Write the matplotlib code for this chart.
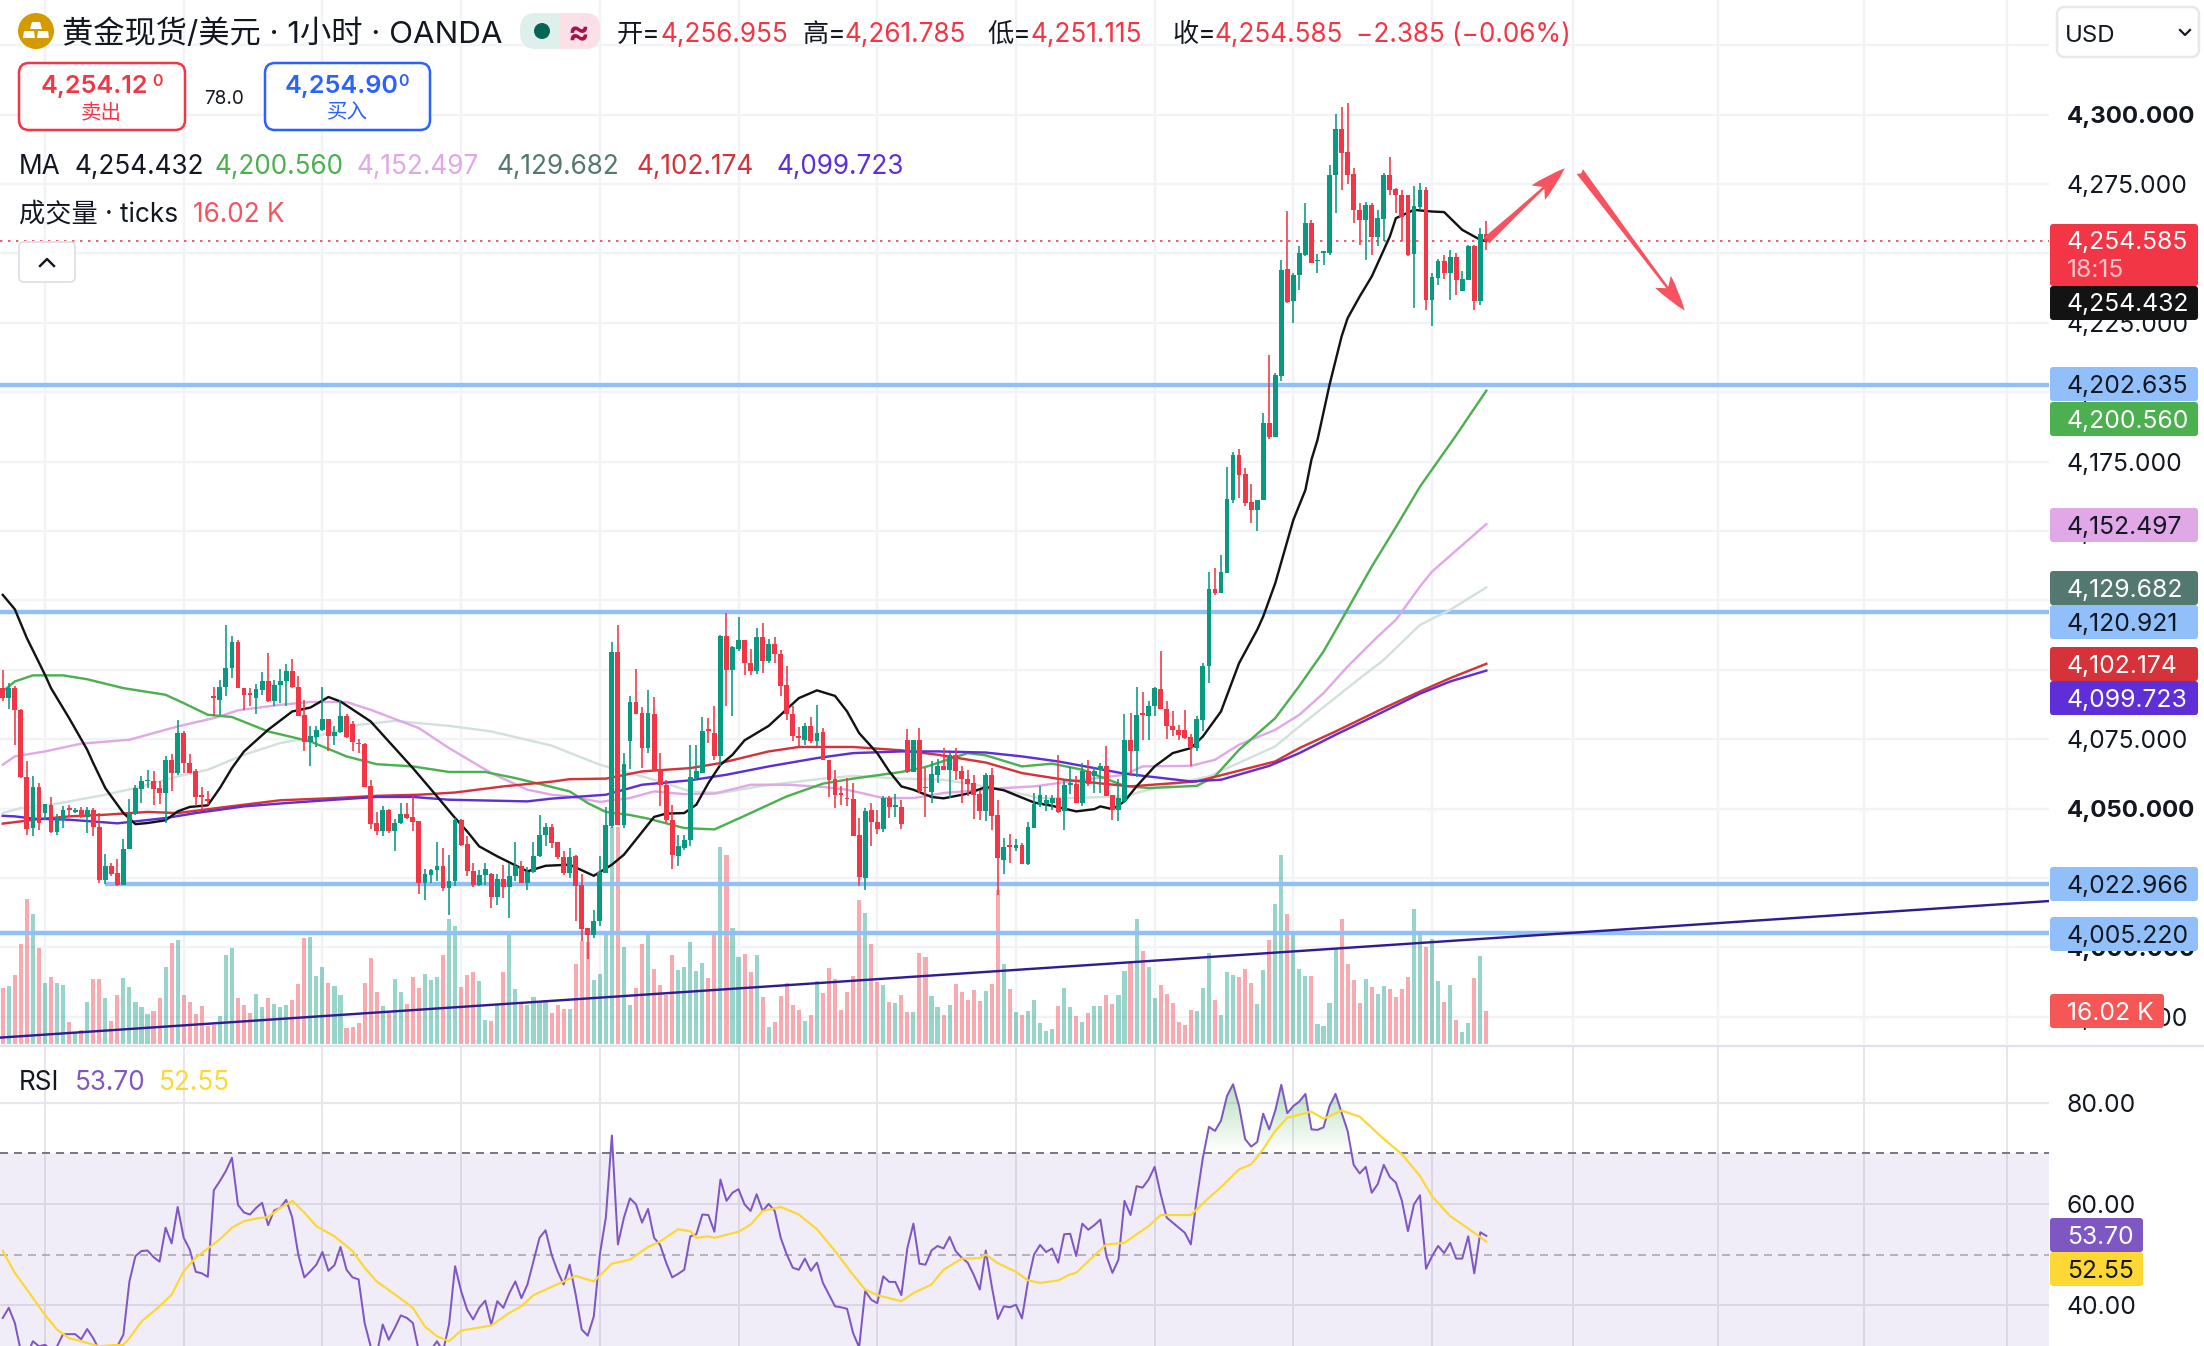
import matplotlib
matplotlib.use('Agg')
import matplotlib.pyplot as plt
import numpy as np
from matplotlib.patches import Circle, FancyBboxPatch, Polygon, Rectangle

opens = [4093.4,4089.8,4093.4,4085.6,4061.4,4043.0,4057.8,4048.4,4051.4,4041.4,
    4045.8,4050.2,4048.6,4049.4,4047.0,4049.6,4043.4,4024.2,4029.4,4026.8,
    4022.6,4035.4,4048.2,4057.2,4059.8,4060.0,4057.5,4055.8,4067.6,4063.0,
    4077.4,4066.6,4063.4,4054.6,4053.2,4090.0,4089.2,4093.8,4100.6,4110.1,
    4093.4,4091.2,4090.0,4092.8,4095.8,4088.6,4094.6,4095.8,4099.6,4093.8,
    4083.8,4074.0,4075.8,4078.2,4082.2,4076.0,4077.6,4083.4,4080.6,4073.8,
    4073.4,4058.0,4044.8,4041.8,4049.6,4041.8,4044.8,4048.0,4047.0,4045.4,
    4023.2,4026.2,4027.8,4029.4,4021.4,4023.8,4046.0,4037.2,4027.6,4022.6,
    4026.2,4026.6,4018.2,4024.6,4021.8,4025.6,4029.4,4023.2,4027.0,4032.8,
    4040.6,4043.4,4037.8,4032.6,4026.8,4032.8,4022.6,4007.0,4004.4,4009.5,
    4026.8,4043.8,4106.5,4044.2,4074.3,4088.5,4084.4,4071.8,4084.2,4064.0,
    4058.6,4046.0,4033.0,4035.8,4038.6,4061.0,4063.0,4078.2,4077.4,4068.8,
    4112.2,4099.8,4107.4,4110.6,4102.4,4099.4,4111.8,4103.0,4109.2,4105.8,
    4094.5,4084.0,4076.0,4074.6,4079.8,4074.3,4077.7,4067.6,4060.6,4055.2,
    4054.0,4053.6,4040.6,4025.0,4049.4,4045.3,4042.6,4053.7,4050.6,4050.6,
    4074.8,4063.3,4074.8,4057.5,4056.1,4062.2,4065.2,4063.8,4069.2,4063.4,
    4060.8,4059.2,4055.4,4049.0,4062.2,4047.8,4031.4,4036.5,4035.7,4037.0,
    4030.2,4043.1,4051.4,4051.8,4052.2,4053.8,4049.0,4058.6,4059.0,4052.2,
    4063.4,4061.6,4063.8,4065.4,4055.0,4049.4,4052.6,4074.8,4070.6,4084.0,
    4083.2,4087.0,4093.0,4085.8,4079.8,4078.4,4078.4,4075.8,4072.0,4082.0,
    4101.2,4129.2,4127.7,4135.0,4161.2,4177.4,4170.6,4160.4,4157.6,4161.0,
    4188.9,4183.9,4205.7,4244.3,4232.7,4242.1,4249.5,4260.9,4247.2,4250.1,
    4250.1,4278.1,4294.9,4286.5,4278.7,4265.5,4261.9,4267.5,4256.1,4262.5,
    4278.3,4273.1,4270.9,4270.9,4249.9,4266.9,4272.9,4233.3,4241.2,4247.3,
    4242.9,4248.7,4236.3,4240.3,4252.5,4232.7,4256.955]

highs = [4099.8,4095.2,4094.0,4085.8,4067.0,4061.6,4059.4,4051.5,4054.2,4048.0,
    4051.0,4051.4,4050.2,4050.6,4050.6,4050.2,4048.4,4033.8,4030.4,4031.8,
    4039.0,4053.4,4058.6,4061.6,4064.0,4063.4,4059.8,4068.8,4069.8,4082.0,
    4077.8,4069.8,4064.2,4057.8,4056.3,4093.8,4096.4,4116.2,4112.2,4110.8,
    4093.4,4093.4,4095.0,4099.2,4106.0,4096.2,4100.2,4102.2,4103.8,4097.8,
    4089.2,4079.6,4079.8,4093.8,4082.2,4079.6,4089.2,4084.0,4081.4,4075.0,
    4073.8,4060.4,4048.9,4051.0,4049.8,4046.2,4052.0,4052.0,4054.6,4045.4,
    4028.2,4028.2,4038.1,4035.8,4033.4,4046.7,4046.2,4040.2,4030.4,4028.0,
    4030.4,4026.8,4026.6,4029.8,4030.4,4038.0,4031.0,4029.0,4037.8,4047.8,
    4044.8,4044.4,4038.1,4034.6,4035.8,4033.4,4026.6,4007.0,4013.6,4032.8,
    4050.6,4110.1,4116.2,4070.0,4090.6,4100.2,4086.6,4092.8,4090.2,4070.0,
    4060.4,4051.4,4040.6,4040.6,4073.0,4073.0,4083.0,4082.6,4086.8,4112.6,
    4120.4,4108.4,4119.0,4110.8,4107.4,4115.0,4117.0,4111.0,4111.8,4107.0,
    4101.4,4086.8,4079.4,4081.0,4083.0,4087.4,4079.0,4067.6,4064.0,4058.2,
    4061.0,4059.2,4046.6,4050.2,4052.2,4049.6,4054.6,4054.6,4055.4,4053.0,
    4078.8,4074.8,4079.0,4064.6,4067.0,4067.8,4071.8,4070.0,4071.8,4065.2,
    4064.0,4062.2,4056.6,4063.0,4064.6,4053.2,4039.4,4041.0,4039.0,4037.6,
    4045.0,4055.6,4058.0,4055.0,4055.0,4069.4,4060.4,4065.0,4061.6,4066.4,
    4067.6,4065.0,4066.6,4072.6,4055.0,4060.6,4084.2,4084.4,4093.8,4092.1,
    4088.8,4093.8,4106.6,4088.8,4085.0,4080.2,4085.6,4077.0,4083.4,4102.4,
    4135.3,4136.6,4141.4,4173.1,4178.5,4179.6,4172.7,4167.0,4161.2,4192.5,
    4213.5,4206.9,4247.7,4265.3,4243.0,4252.5,4268.1,4262.1,4249.9,4250.7,
    4281.9,4300.3,4302.9,4304.1,4280.7,4268.1,4268.7,4268.3,4265.5,4278.9,
    4284.7,4273.5,4272.9,4271.1,4274.3,4275.3,4274.1,4242.9,4248.1,4249.5,
    4251.3,4250.1,4243.5,4253.1,4253.1,4259.1,4261.785]

lows = [4088.6,4085.8,4073.0,4061.0,4040.6,4040.0,4042.4,4046.0,4041.2,4040.6,
    4043.0,4047.0,4048.4,4046.7,4041.2,4040.0,4023.2,4023.0,4025.6,4022.0,
    4022.6,4035.4,4047.8,4052.0,4057.4,4051.4,4051.8,4044.8,4056.2,4062.0,
    4063.0,4062.8,4050.8,4049.4,4051.4,4083.4,4083.8,4090.6,4097.0,4093.4,
    4085.4,4087.0,4084.2,4091.0,4088.5,4087.0,4088.2,4087.0,4093.4,4083.4,
    4070.6,4065.2,4072.2,4077.8,4070.6,4073.0,4077.2,4075.4,4070.6,4070.0,
    4057.8,4042.6,4040.6,4040.2,4041.2,4034.6,4044.4,4046.2,4041.8,4019.4,
    4017.0,4023.2,4023.8,4020.2,4011.6,4022.0,4036.6,4025.6,4021.8,4022.2,
    4022.6,4014.2,4015.4,4017.8,4010.6,4023.8,4023.2,4020.6,4026.8,4032.6,
    4036.4,4035.8,4031.8,4026.2,4025.0,4009.4,4002.2,3995.8,4003.4,4007.6,
    4026.8,4043.0,4044.2,4043.0,4064.2,4084.2,4064.6,4070.0,4063.4,4050.8,
    4044.8,4028.2,4029.2,4035.2,4036.6,4060.4,4062.8,4073.6,4067.6,4065.4,
    4087.0,4083.2,4106.6,4098.2,4098.2,4098.6,4099.0,4102.4,4102.4,4090.4,
    4082.0,4074.2,4072.4,4073.0,4073.6,4072.4,4067.4,4054.2,4050.3,4051.4,
    4050.8,4040.0,4022.0,4020.8,4036.6,4041.0,4041.4,4046.6,4047.0,4042.6,
    4063.0,4063.3,4055.6,4047.0,4052.0,4059.2,4063.8,4053.8,4060.4,4052.2,
    4054.4,4046.2,4045.8,4045.4,4042.2,4019.0,4026.6,4030.4,4034.6,4030.2,
    4029.8,4043.1,4050.6,4049.0,4049.6,4048.4,4042.4,4055.4,4052.2,4051.0,
    4058.0,4055.6,4055.6,4054.4,4046.0,4045.4,4052.2,4061.6,4061.4,4074.6,
    4074.6,4083.2,4085.8,4075.2,4076.2,4074.6,4075.0,4065.2,4070.6,4077.8,
    4095.4,4126.8,4127.7,4135.0,4160.2,4161.9,4159.0,4152.9,4150.0,4161.0,
    4183.2,4183.9,4203.9,4232.3,4225.1,4236.9,4248.9,4246.5,4243.1,4245.9,
    4249.3,4264.7,4272.9,4275.1,4260.9,4253.1,4247.5,4249.5,4252.7,4254.3,
    4271.1,4264.7,4254.3,4249.1,4230.3,4265.7,4229.5,4223.7,4238.7,4240.9,
    4233.1,4234.9,4236.3,4240.3,4229.7,4231.5,4251.115]

closes = [4089.8,4093.4,4085.4,4061.4,4042.6,4057.8,4044.8,4051.5,4041.4,4046.6,
    4049.6,4049.6,4049.6,4047.0,4049.6,4043.4,4024.2,4029.4,4026.6,4022.6,
    4035.4,4048.2,4057.4,4059.8,4060.4,4057.2,4055.8,4067.6,4063.0,4077.4,
    4066.6,4063.0,4054.2,4054.2,4052.7,4089.8,4093.8,4100.6,4110.1,4093.4,
    4090.8,4091.0,4093.0,4095.9,4088.6,4094.7,4095.9,4099.6,4093.8,4083.4,
    4074.0,4076.0,4078.4,4082.2,4076.0,4077.7,4083.4,4075.8,4074.0,4073.2,
    4057.8,4044.6,4041.8,4049.6,4041.8,4044.8,4048.2,4046.6,4045.2,4023.2,
    4026.4,4028.0,4029.4,4021.4,4023.8,4046.0,4037.0,4027.4,4022.6,4026.2,
    4028.2,4018.2,4024.6,4021.8,4025.8,4029.4,4023.2,4027.3,4033.0,4040.6,
    4043.4,4037.6,4032.6,4026.8,4032.6,4022.2,4006.6,4004.4,4009.5,4027.2,
    4044.2,4106.5,4044.2,4066.2,4088.5,4084.2,4071.8,4084.4,4063.8,4058.4,
    4045.8,4033.4,4036.4,4038.8,4061.4,4063.4,4077.8,4078.0,4068.8,4112.2,
    4099.8,4108.2,4110.6,4102.4,4099.4,4111.8,4103.0,4109.2,4105.8,4094.2,
    4084.0,4076.0,4075.3,4079.6,4074.3,4077.4,4067.6,4060.4,4055.0,4055.0,
    4053.4,4040.2,4025.2,4049.0,4045.0,4042.8,4053.7,4050.6,4050.8,4044.6,
    4063.3,4074.8,4056.2,4057.3,4062.6,4065.2,4063.8,4069.4,4063.4,4060.8,
    4059.0,4055.0,4049.0,4062.2,4047.4,4032.1,4036.2,4036.3,4036.9,4030.2,
    4043.4,4051.8,4055.0,4053.2,4053.8,4048.8,4058.6,4059.4,4052.2,4063.6,
    4059.0,4063.4,4065.2,4054.6,4049.4,4053.8,4074.8,4070.6,4083.8,4083.8,
    4087.0,4093.3,4085.8,4079.6,4078.2,4076.6,4075.3,4072.0,4082.4,4101.4,
    4129.2,4127.7,4135.2,4161.6,4177.4,4170.3,4160.1,4157.6,4161.2,4188.9,
    4183.9,4206.3,4244.1,4232.5,4242.3,4250.1,4260.9,4246.7,4247.5,4250.4,
    4278.3,4294.9,4286.3,4278.3,4265.5,4261.9,4267.5,4256.1,4262.7,4278.3,
    4272.9,4270.9,4263.1,4249.5,4267.1,4272.9,4233.3,4241.5,4247.3,4242.9,
    4248.7,4240.5,4240.7,4252.5,4232.7,4257.1,4254.585]

# volume in thousands of ticks
volume = [27.2,28.2,33.5,48.5,70.4,63.1,46.6,29.4,32.5,29.8,
    28.6,10.7,6.0,6.8,20.4,31.6,31.6,22.3,11.2,23.8,
    32.0,27.7,20.4,18.0,14.6,16.0,22.3,37.4,49.0,50.5,
    23.8,20.4,14.6,18.4,8.7,9.2,13.6,43.2,46.6,22.3,
    18.9,15.0,24.3,18.0,22.3,19.4,18.0,18.9,21.4,29.1,
    51.5,51.9,33.0,37.4,29.6,28.2,23.8,7.8,8.3,10.2,
    29.6,41.7,25.2,18.4,15.0,31.6,25.2,19.4,32.5,27.2,
    34.0,31.1,32.5,43.2,60.7,57.3,27.7,33.5,34.9,30.6,
    11.6,11.2,18.9,34.9,52.9,26.7,19.4,18.9,22.8,20.9,
    21.4,15.0,18.9,17.0,17.0,38.8,50.0,49.7,31.1,34.0,
    52.9,105.5,105.5,47.1,18.9,27.2,48.5,52.9,36.4,28.6,
    23.8,43.2,35.9,37.4,49.5,35.4,39.3,32.0,54.8,95.6,
    91.7,56.3,42.2,43.7,34.9,43.2,22.8,8.3,10.7,23.3,
    29.6,18.9,16.5,11.2,14.1,30.6,24.8,36.9,31.6,16.5,
    25.2,33.0,69.9,63.6,48.5,30.1,28.6,20.4,19.9,23.8,
    15.5,15.5,44.2,42.2,23.3,18.0,14.1,18.9,29.1,25.2,
    21.4,26.2,20.9,25.7,29.1,74.8,38.8,26.7,15.5,14.1,
    16.0,21.4,10.2,6.3,7.3,18.4,27.2,18.0,13.6,10.7,
    15.0,18.4,18.4,23.8,19.4,23.8,35.4,39.3,60.7,45.1,
    37.4,22.3,28.6,24.3,19.9,10.7,9.2,16.5,16.0,27.2,
    44.2,21.4,14.1,34.9,33.5,32.5,36.4,29.6,19.4,35.9,
    50.5,68.0,91.7,63.1,52.9,36.4,33.0,33.0,9.7,8.7,
    19.9,46.1,60.7,38.8,31.1,19.9,31.6,27.7,24.3,28.2,
    26.7,22.8,26.7,32.5,65.5,54.8,47.1,51.0,30.6,20.4,
    28.6,11.6,5.8,10.2,32.0,42.7,16.02]

rsi = [37.5,39.5,36.5,30.9,30.2,32.9,31.9,32.2,31.2,31.9,
    34.3,34.3,34.3,33.3,35.3,33.5,31.2,30.6,31.2,31.9,
    34.2,44.7,49.7,50.7,50.8,49.5,48.6,55.3,52.2,59.4,
    53.3,51.0,46.6,46.3,45.6,62.7,64.5,66.5,69.1,59.8,
    58.3,57.9,59.2,60.2,55.8,58.7,59.2,60.8,57.3,50.0,
    45.5,46.7,48.0,50.5,46.8,47.9,51.5,47.0,45.5,45.1,
    36.5,31.9,30.2,36.2,33.2,35.5,38.0,37.5,36.5,30.9,
    29.6,31.2,32.9,30.9,36.2,47.7,42.8,39.1,37.2,39.5,
    40.9,36.2,40.8,39.5,42.4,44.7,41.4,44.1,48.7,53.3,
    54.8,50.0,46.7,44.1,48.0,42.1,35.2,34.0,37.8,50.0,
    57.3,73.5,52.0,57.3,61.1,59.9,56.3,59.0,53.3,51.9,
    48.4,45.5,46.2,47.0,53.6,54.0,57.9,57.8,54.5,64.8,
    60.6,62.2,62.9,59.9,58.6,61.9,58.6,60.0,58.6,53.3,
    50.0,47.4,47.0,49.2,46.8,48.4,44.4,42.1,39.8,39.6,
    39.3,34.5,31.7,42.8,41.1,40.4,45.7,44.6,44.6,42.0,
    51.3,56.1,48.2,48.0,50.8,51.7,51.2,53.5,50.7,49.4,
    48.4,46.0,43.1,50.8,43.7,37.3,39.8,39.6,40.1,37.4,
    44.7,50.0,51.9,50.5,51.2,48.4,54.0,54.1,49.7,56.1,
    54.9,55.8,56.9,49.7,46.4,49.0,60.6,57.8,63.5,63.2,
    64.8,67.3,61.9,57.3,56.3,55.3,54.3,52.0,61.2,69.1,
    75.2,74.4,76.4,81.3,83.6,79.3,72.8,71.3,72.2,77.8,
    74.7,78.4,83.5,77.9,79.3,80.2,81.7,74.7,74.6,75.1,
    79.3,81.7,78.0,74.4,67.7,66.0,67.3,62.2,63.9,67.7,
    65.3,64.2,60.6,54.6,59.9,61.7,47.2,49.7,51.7,50.3,
    52.3,49.2,49.2,53.6,46.3,54.4,53.70]

rsi_ma_x = [0,2,4,7,9,11,13,16,18,20,21,23,26,28,30,32,36,38,40,42,44,46,48,50,52,55,58,60,62,66,68,70,72,74,76,81,84,86,88,93,95,98,101,104,107,109,112,114,115,117,118,122,124,126,129,132,135,138,141,143,145,149,151,154,156,159,162,163,165,168,170,172,175,177,178,180,183,186,188,190,192,197,200,202,205,207,209,211,213,217,219,222,225,229,232,235,237,240,244,246]
rsi_ma_y = [50.7,46.4,43.1,38.1,35.2,33.5,32.9,31.9,32.1,32.2,33.5,36.8,39.8,42.1,46.7,49.4,53.0,55.3,56.6,57.1,57.4,59.2,60.6,58.3,55.6,53.6,50.7,47.4,44.7,41.3,39.5,35.8,33.9,32.9,35.0,36.0,38.5,39.8,42.0,44.7,45.8,44.7,48.2,49.0,51.5,52.6,55.0,54.6,53.3,53.6,53.3,54.5,55.9,58.6,59.4,57.9,55.0,50.7,46.0,43.1,42.0,40.8,42.4,44.1,47.0,49.2,49.3,50.0,48.3,46.6,44.9,44.4,44.9,46.1,46.4,48.7,52.0,52.3,54.0,55.6,57.8,57.8,61.2,63.3,66.8,67.8,70.8,74.4,77.0,78.2,76.8,78.4,77.2,72.8,69.8,65.5,61.5,57.6,54.3,52.55]

ma_black_x = [0,2,4,7,8,11,14,15,17,20,22,24,27,29,31,34,36,38,40,44,48,51,54,56,61,65,68,72,75,77,79,82,87,90,94,96,98,101,103,108,110,113,115,117,119,121,123,127,132,135,138,140,142,145,147,149,151,154,156,160,163,166,171,174,178,181,182,184,186,188,191,194,197,199,202,205,208,209,211,214,216,217,218,220,222,223,225,227,230,231,234,237,239,242,245,246]
ma_black_y = [4127.0,4121.8,4111.4,4098.2,4093.4,4082.6,4071.2,4066.4,4057.4,4048.4,4044.4,4044.8,4045.8,4049.0,4050.6,4051.2,4057.4,4064.6,4070.6,4078.4,4085.0,4086.4,4090.2,4088.6,4081.4,4071.8,4064.6,4054.4,4046.6,4041.8,4036.4,4032.8,4027.4,4029.4,4029.8,4027.8,4025.8,4029.8,4033.4,4047.0,4048.2,4048.4,4051.4,4059.2,4065.8,4069.4,4074.6,4079.8,4089.8,4092.6,4090.6,4085.0,4077.2,4070.0,4063.4,4058.0,4056.8,4054.2,4053.7,4055.4,4057.8,4056.6,4052.2,4051.0,4049.0,4049.8,4050.8,4049.8,4052.6,4058.0,4065.2,4070.0,4071.8,4076.0,4085.0,4102.4,4114.4,4119.2,4131.2,4154.0,4164.8,4175.7,4182.8,4202.7,4220.1,4226.7,4234.5,4241.7,4256.1,4262.7,4265.7,4265.1,4264.9,4258.5,4254.9,4254.432]

ma_green_x = [0,2,5,10,14,20,27,30,34,38,44,51,57,62,68,74,80,85,91,94,97,100,104,107,113,118,122,130,136,141,149,153,160,163,169,174,179,186,190,198,201,205,211,215,219,222,227,231,235,241,246]
ma_green_y = [4092.2,4095.8,4098.0,4098.0,4096.6,4093.4,4091.0,4088.0,4083.8,4083.0,4077.8,4074.2,4068.8,4066.0,4065.2,4063.2,4063.2,4061.0,4057.8,4056.2,4052.0,4048.8,4047.7,4046.4,4043.0,4042.5,4046.4,4054.4,4059.0,4060.8,4063.2,4065.0,4070.0,4069.2,4065.2,4066.2,4064.0,4058.2,4057.4,4058.2,4061.6,4071.2,4082.6,4094.2,4106.6,4118.0,4137.2,4151.4,4166.0,4184.5,4200.56]

ma_pink_x = [0,2,7,13,21,29,35,39,46,51,57,61,69,74,81,87,91,94,99,104,108,113,118,124,130,136,140,146,151,156,166,171,177,186,189,197,201,205,211,215,219,223,228,231,235,237,246]
ma_pink_y = [4065.8,4068.8,4070.6,4073.4,4074.8,4079.6,4082.6,4085.4,4087.4,4088.4,4088.4,4085.6,4079.0,4071.8,4062.8,4056.8,4055.0,4054.4,4052.4,4053.8,4056.2,4055.2,4055.4,4058.6,4058.6,4057.8,4056.8,4053.8,4053.8,4055.6,4057.4,4058.0,4059.8,4062.2,4065.2,4065.4,4067.6,4073.0,4078.4,4083.8,4091.6,4101.2,4112.0,4118.0,4130.0,4135.4,4152.497]

ma_gray_x = [0,3,8,17,22,29,34,40,46,52,59,65,74,81,91,99,108,114,119,126,136,141,149,156,165,172,177,186,191,200,211,215,224,229,235,240,246]
ma_gray_y = [4048.4,4050.2,4051.4,4055.0,4057.4,4061.6,4064.0,4069.4,4073.6,4076.0,4080.2,4081.6,4079.8,4077.8,4072.7,4065.8,4060.4,4056.2,4055.6,4058.2,4060.8,4061.8,4060.8,4060.4,4057.2,4053.8,4053.8,4054.4,4057.4,4061.6,4072.4,4079.6,4095.2,4103.6,4116.2,4121.6,4129.682]

ma_red_x = [0,6,11,17,24,29,37,46,55,62,69,75,83,91,94,100,106,114,119,127,132,141,149,155,163,169,176,187,198,211,215,221,229,235,240,246]
ma_red_y = [4044.6,4046.2,4047.2,4047.8,4048.8,4048.4,4050.6,4053.0,4053.8,4054.6,4055.0,4055.8,4058.0,4059.7,4060.6,4060.8,4063.4,4064.6,4066.4,4070.6,4072.2,4072.2,4071.0,4069.4,4066.6,4062.8,4060.4,4058.0,4059.8,4067.0,4071.8,4077.8,4086.2,4092.2,4097.0,4102.174]

ma_purple_x = [0,2,5,11,19,27,32,40,47,55,62,68,74,87,91,100,106,114,120,127,135,141,149,155,163,169,175,186,197,202,210,215,221,229,235,240,246]
ma_purple_y = [4047.4,4047.2,4046.4,4046.0,4044.7,4046.6,4048.4,4050.8,4052.0,4053.2,4054.2,4054.2,4053.2,4052.6,4053.6,4055.0,4058.6,4060.2,4062.2,4065.2,4068.2,4070.0,4070.6,4070.6,4070.2,4068.8,4067.0,4062.6,4059.8,4060.4,4065.4,4070.0,4076.6,4085.0,4091.4,4095.8,4099.723]

hlines = [4202.635, 4120.921, 4005.220]
support_level = 4022.966
support_start = 17
trend_x = [-0.46, 339.3]
trend_y = [3967.5, 4016.7]
last_price = 4254.585
arrow_up = [(246, 4254.6), (259, 4280.7)]
arrow_down = [(261.5, 4279.5), (278.9, 4229.4)]

price_ticks = [4300, 4275, 4250, 4225, 4200, 4175, 4150, 4125, 4100, 4075, 4050, 4025, 4000, 3975]
bold_ticks = [4300, 4050, 4000]
rsi_ticks = [80, 60, 40]
time_grid = [7, 30, 53, 76, 99, 122, 145, 168, 191, 214, 237, 260.4, 284.4, 308.6, 332.4]

GREEN = '#089981'
RED = '#F23645'
GRID = '#F2F3F6'
INK = '#131722'
px = 0.72  # one image pixel in points at dpi 100

font = ['Inter', 'Noto Sans CJK SC', 'DejaVu Sans']
plt.rcParams['font.family'] = font

W, H = 2204, 1346
fig = plt.figure(figsize=(W / 100, H / 100), dpi=100, facecolor='white')

main_rect = [0, (H - 1044) / H, 2049 / W, 1044 / H]
rsi_rect = [0, 0, 2049 / W, 299 / H]
xlim = (-0.46, 339.3)
ylim = (3965.2, 4341.3)

# grid and price scale underneath everything
ax_grid = fig.add_axes(main_rect)
ax_grid.set_xlim(xlim)
ax_grid.set_ylim(ylim)
ax_grid.yaxis.tick_right()
ax_grid.set_yticks(price_ticks)
ax_grid.set_yticklabels([f'{t:,.3f}' for t in price_ticks], fontsize=24.7 * px, color=INK)
for lab, t in zip(ax_grid.get_yticklabels(), price_ticks):
    if t in bold_ticks:
        lab.set_fontweight('bold')
        lab.set_fontsize(24 * px)
ax_grid.tick_params(axis='y', length=0, pad=18 * px)
ax_grid.set_xticks(time_grid)
ax_grid.tick_params(axis='x', length=0, labelbottom=False)
ax_grid.grid(True, color=GRID, lw=2.4 * px)
ax_grid.axhline(4325, color=GRID, lw=2.4 * px)
for s in ax_grid.spines.values():
    s.set_visible(False)

# volume overlay
ax_vol = fig.add_axes(main_rect, sharex=ax_grid)
ax_vol.patch.set_visible(False)
ax_vol.set_ylim(0, 506.8)
ax_vol.axis('off')

o = np.array(opens)
h = np.array(highs)
l = np.array(lows)
c = np.array(closes)
idx = np.arange(len(o))
up = c >= o
bar_colors = np.where(up, GREEN, RED)

ax_vol.bar(idx, volume, width=0.68, color=bar_colors, alpha=0.42, lw=0)

# candles and lines
ax = fig.add_axes(main_rect, sharex=ax_grid)
ax.patch.set_visible(False)
ax.set_ylim(ylim)
ax.axis('off')

for lvl in hlines:
    ax.hlines(lvl, xlim[0], xlim[1], color='#90BFF9', lw=4.4 * px, zorder=1)
ax.hlines(support_level, support_start, xlim[1], color='#90BFF9', lw=4.4 * px, zorder=1)
ax.plot(trend_x, trend_y, color='#311B92', lw=2.4 * px, zorder=2)
ax.hlines(last_price, xlim[0], xlim[1], color=RED, lw=1.6 * px, linestyles=(0, (1.5, 3.5)), zorder=2)

ax.plot(ma_gray_x, ma_gray_y, color='#D3E0DC', lw=2.4 * px, zorder=3)
ax.plot(ma_pink_x, ma_pink_y, color='#E1A8E8', lw=2.4 * px, zorder=3)
ax.plot(ma_green_x, ma_green_y, color='#4CAF50', lw=2.4 * px, zorder=3)
ax.plot(ma_red_x, ma_red_y, color='#D5323A', lw=2.4 * px, zorder=3)
ax.plot(ma_purple_x, ma_purple_y, color='#5E2ED6', lw=2.4 * px, zorder=3)
ax.plot(ma_black_x, ma_black_y, color='#131313', lw=2.4 * px, zorder=3)

ax.vlines(idx, l, h, colors=bar_colors, lw=1.6 * px, zorder=4)
body = np.maximum(np.abs(c - o), 0.6)
ax.bar(idx, body, bottom=np.minimum(o, c), width=0.8, color=bar_colors, lw=0, zorder=5)

for (a, b) in [arrow_up, arrow_down]:
    ax.annotate('', xy=b, xytext=a, zorder=6,
                arrowprops=dict(arrowstyle='fancy,head_length=1.0,head_width=0.55,tail_width=0.22',
                                color='#F7525F', lw=0, mutation_scale=26, shrinkA=0, shrinkB=0))

# RSI pane
ax_rsi = fig.add_axes(rsi_rect, sharex=ax_grid)
ax_rsi.axhspan(30, 70, color='#7E57C2', alpha=0.1, lw=0, zorder=1)
ax_rsi.hlines(70, xlim[0], xlim[1], color='#787B86', lw=2 * px, linestyles=(0, (4, 3)), zorder=2)
ax_rsi.hlines(50, xlim[0], xlim[1], color='#787B86', lw=2 * px, alpha=0.5, linestyles=(0, (4, 3)), zorder=2)
ax_rsi.yaxis.tick_right()
ax_rsi.set_yticks(rsi_ticks)
ax_rsi.set_yticklabels([f'{t:.2f}' for t in rsi_ticks], fontsize=24.7 * px, color=INK)
ax_rsi.tick_params(axis='y', length=0, pad=18 * px)
ax_rsi.tick_params(axis='x', length=0, labelbottom=False)
ax_rsi.grid(True, color='#E6E6EC', lw=2 * px, zorder=0)
ax_rsi.set_axisbelow(True)
ax_rsi.axhline(80, color=GRID, lw=2.4 * px, zorder=0)
for s in ax_rsi.spines.values():
    s.set_visible(False)
ax_rsi.patch.set_visible(False)

rsi_arr = np.array(rsi)
zone = ax_rsi.fill_between(idx, 70, np.maximum(rsi_arr, 70), facecolor='none', lw=0)
grad = np.zeros((64, 1, 4))
grad[:, 0, :3] = matplotlib.colors.to_rgb('#4CAF50')
grad[:, 0, 3] = np.linspace(0.0, 0.4, 64)
im = ax_rsi.imshow(grad, origin='lower', extent=[0, 246, 70, 84], aspect='auto', zorder=2)
im.set_clip_path(zone.get_paths()[0], transform=ax_rsi.transData)

ax_rsi.plot(idx, rsi, color='#7E57C2', lw=2 * px, zorder=3)
ax_rsi.plot(rsi_ma_x, rsi_ma_y, color='#FDD835', lw=2.2 * px, zorder=4)
ax_rsi.set_xlim(xlim)
ax_rsi.set_ylim(31.96, 90.95)

# pixel overlay for the header, buttons and price tags
ui = fig.add_axes([0, 0, 1, 1], zorder=10)
ui.set_xlim(0, W)
ui.set_ylim(H, 0)
ui.axis('off')
ui.patch.set_visible(False)


def label(x, y, s, size=23, color=INK, ha='left', weight='normal'):
    ui.text(x, y, s, fontsize=size * px, color=color, ha=ha, va='center_baseline', fontweight=weight, family=font)


def box(x0, y0, x1, y1, fc='white', ec='none', lw=0, r=5):
    ui.add_patch(FancyBboxPatch((x0 + r, y0 + r), x1 - x0 - 2 * r, y1 - y0 - 2 * r,
                                boxstyle=f'round,pad={r},rounding_size={r}', fc=fc, ec=ec, lw=lw * px))


ui.plot([0, W], [1045.5, 1045.5], color='#E0E3EB', lw=2.4 * px)

# logo
ui.add_patch(Circle((36, 31), 18, fc='#D49A00', ec='none'))
ui.add_patch(Polygon([(32, 22), (40, 22), (42, 29), (30, 29)], fc='white'))
ui.add_patch(Polygon([(24, 31), (34, 31), (35, 38), (23, 38)], fc='white'))
ui.add_patch(Polygon([(38, 31), (48, 31), (49, 38), (37, 38)], fc='white'))
label(62, 31, '黄金现货/美元 · 1小时 · OANDA', 31.3)

# market status pill
box(520, 13, 600, 49, fc='#DFF0EC', r=16)
ui.add_patch(Rectangle((560, 13), 24, 36, fc='#FCE0E7', ec='none'))
box(570, 13, 600, 49, fc='#FCE0E7', r=15)
ui.add_patch(Circle((542, 31), 8, fc='#056656', ec='none'))
label(578, 31, '≈', 32, '#A6124F', ha='center', weight='bold')

# OHLC
for x, s, col in [(617, '开=', INK), (661, '4,256.955', RED), (803, '高=', INK), (845, '4,261.785', RED),
                  (987, '低=', INK), (1030, '4,251.115', RED), (1172, '收=', INK), (1214, '4,254.585', RED),
                  (1356, '−2.385 (−0.06%)', RED)]:
    label(x, 32, s, 26.2, col)

# sell / buy
box(19, 63, 185, 130, ec=RED, lw=2.5, r=10)
label(41, 84, '4,254.12', 25.2, RED, weight='semibold')
label(152, 80, '0', 16, RED, weight='semibold')
label(101, 111, '卖出', 20.5, RED, ha='center')
label(224, 97, '78.0', 19, ha='center')
box(265, 63, 430, 130, ec='#2962FF', lw=2.5, r=10)
label(285, 84, '4,254.90', 25.2, '#2962FF', weight='semibold')
label(398, 80, '0', 16, '#2962FF', weight='semibold')
label(347, 111, '买入', 20.5, '#2962FF', ha='center')

# MA row
label(19, 164, 'MA', 26.2)
for x, s, col in [(75, '4,254.432', INK), (215, '4,200.560', '#4CAF50'), (356, '4,152.497', '#E1A8E8'),
                  (496, '4,129.682', '#52786F'), (637, '4,102.174', '#D5323A'), (777, '4,099.723', '#5E2ED6')]:
    label(x, 164, s, 26.2, col)

label(19, 212, '成交量 · ticks', 26.2)
label(193, 212, '16.02 K', 26.2, '#F7525F')

box(19, 242, 75, 282, ec='#E0E3EB', lw=2, r=5)
ui.plot([40, 47, 54], [266, 259, 266], color=INK, lw=2.4 * px)

label(19, 1080, 'RSI', 26.2)
label(75, 1080, '53.70', 26.2, '#7E57C2')
label(159, 1080, '52.55', 26.2, '#FDD835')

# currency selector
box(2057, 7, 2199, 57, ec='#E8E9EC', lw=2.5, r=8)
label(2065, 33, 'USD', 24)
ui.plot([2180, 2185, 2190], [30, 35, 30], color=INK, lw=2.2 * px)

# price tags: (center y, text, fill, text colour)
tags = [(384, '4,202.635', '#90BFF9', INK), (419, '4,200.560', '#4CAF50', 'white'),
        (525, '4,152.497', '#E1A8E8', INK), (588, '4,129.682', '#52786F', 'white'),
        (622, '4,120.921', '#90BFF9', INK), (664, '4,102.174', '#D5323A', 'white'),
        (698, '4,099.723', '#5E2ED6', 'white'), (884, '4,022.966', '#90BFF9', INK),
        (934, '4,005.220', '#90BFF9', INK)]
box(2050, 224, 2198, 286, fc=RED, r=3)
label(2067, 240, '4,254.585', 24.7, 'white')
label(2067, 268, '18:15', 24.7, '#FBC4CA')
box(2050, 286, 2198, 320, fc='#131313', r=3)
label(2067, 302, '4,254.432', 24.7, 'white')
for y, s, fc, tc in tags:
    box(2050, y - 17, 2198, y + 17, fc=fc, r=3)
    label(2067, y, s, 24.7, tc)
box(2050, 994, 2164, 1028, fc='#F55757', r=3)
label(2067, 1011, '16.02 K', 24.7, 'white')
box(2050, 1218, 2143, 1252, fc='#7E57C2', r=3)
label(2067, 1235, '53.70', 24.7, 'white')
box(2050, 1252, 2143, 1286, fc='#FDD835', r=3)
label(2067, 1269, '52.55', 24.7, INK)

fig.savefig('out.png', dpi=100)
